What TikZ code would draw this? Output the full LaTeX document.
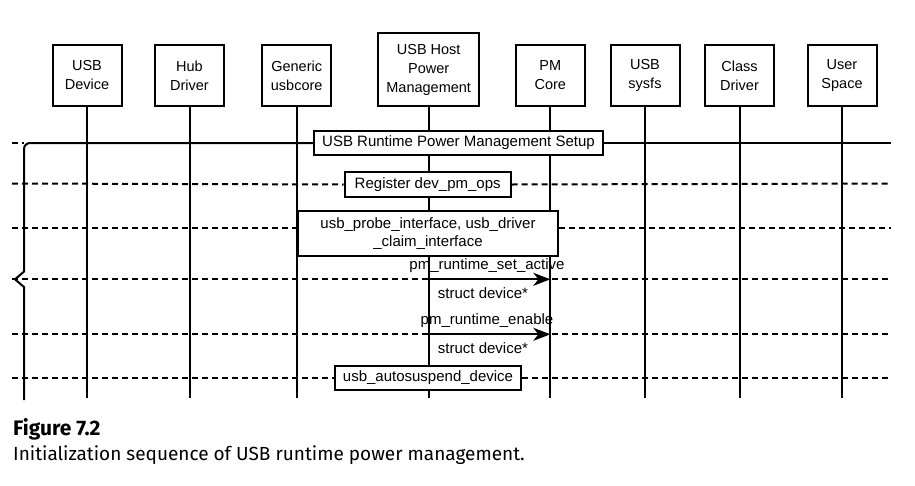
\documentclass[tikz,border=0pt]{standalone}
\usepackage{fontspec}
\setmainfont{Liberation Sans}
\newfontfamily\capfont{Fira Sans}
\usepackage{tikz}
\usetikzlibrary{calc}
\usetikzlibrary{arrows.meta}
\tikzset{
   actor/.style={draw=black, line width=2pt, fill=white, minimum width=69pt,
      minimum height=61pt, inner sep=1pt, align=center,
      font=\fontsize{14.5}{19}\selectfont},
   lifeline/.style={draw=black, line width=2pt},
   msgbox/.style={draw=black, line width=2pt, fill=white, inner xsep=8pt,
      inner ysep=0pt, minimum height=24pt, align=center,
      font=\fontsize{15}{18}\selectfont},
   msgline/.style={draw=black, line width=2pt, dash pattern=on 6pt off 4pt},
   call/.style={draw=black, line width=2pt,
      -{Stealth[length=17pt, width=13pt, inset=5pt]}},
   calltext/.style={font=\fontsize{15}{18}\selectfont, inner sep=0pt},
    }

\begin{document}
\begin{tikzpicture}[x=1pt, y=-1pt]
        \useasboundingbox (0,0) rectangle (915,485);
        % participants
        \node[actor] (dev)  at (87,75.5)  {USB\\Device};
        \node[actor] (hub)  at (189.5,75.5) {Hub\\Driver};
        \node[actor] (core) at (296.7,75.5) {Generic\\usbcore};
        \node[actor, minimum width=100.7pt, minimum height=73pt] (host) at (428.7,69.6) {USB Host\\Power\\Management};
        \node[actor] (pm)   at (550.3,75.5) {PM\\Core};
        \node[actor] (fs)   at (645,75.5) {USB\\sysfs};
        \node[actor] (cls)  at (739.5,75.5) {Class\\Driver};
        \node[actor] (user) at (842,75.5) {User\\Space};
        \coordinate (bottom) at (0,398);
        \foreach \p in {dev,hub,core,host,pm,fs,cls,user}
            \draw[lifeline] (\p.south) -- (\p |- bottom);
        % messages
        \node[msgbox] (setup) at (458.5,143) {USB Runtime Power Management Setup};
        \node[msgbox, minimum height=25.6pt, inner xsep=10pt] (reg) at (427.7,184.5) {Register dev\_pm\_ops};
        \node[msgbox, minimum width=260.6pt, minimum height=44.7pt] (probe) at (428,233.3) {usb\_probe\_interface, usb\_driver\\\_claim\_interface};
        \node[msgbox] (susp) at (428,377.5) {usb\_autosuspend\_device};
        \coordinate (L0) at (12,143);
        \coordinate (B0) at (24,143);
        \coordinate (R0) at (891,143);
        \coordinate (L1) at (12,183.5);
        \coordinate (R1) at (891,183.5);
        \coordinate (L2) at (12,227.7);
        \coordinate (R2) at (891,227.7);
        \coordinate (L3) at (12,279.3);
        \coordinate (R3) at (891,279.3);
        \coordinate (L4) at (12,334.3);
        \coordinate (R4) at (891,334.3);
        \coordinate (L5) at (12,377.7);
        \coordinate (R5) at (891,377.7);
        \draw[msgline] (L0) -- (B0);
        \draw[lifeline] (24,400) -- (24,287) -- (15,279.3) -- (24,271.6) [rounded corners=6pt] -- (B0) -- (setup.west);
        \draw[lifeline] (setup.east) -- (R0);
        \draw[msgline] (L1) -- (reg.west);
        \draw[msgline] (reg.east) -- (R1);
        \draw[msgline] (L2) -- (probe.west |- L2);
        \draw[msgline] (probe.east |- R2) -- (R2);
        \draw[msgline] (L3) -- (R3);
        \draw[msgline] (L4) -- (R4);
        \draw[msgline] (L5) -- (susp.west |- L5);
        \draw[msgline] (susp.east |- R5) -- (R5);
        % calls
        \draw[call] (host |- L3) -- (pm |- L3);
        \node[calltext] (act) at (487,265.5) {pm\_runtime\_set\_active};
        \node[calltext] (arg1) at (483,293) {struct device*};
        \draw[call] (host |- L4) -- (pm |- L4);
        \node[calltext] (ena) at (487,320.5) {pm\_runtime\_enable};
        \node[calltext] (arg2) at (483,348) {struct device*};
        % caption
        \node[anchor=base west, inner sep=0pt, font=\capfont\bfseries\fontsize{21}{24}\selectfont] (fig) at (13,435.7) {Figure 7.2};
        \node[anchor=base west, inner sep=0pt, font=\capfont\fontsize{19}{24}\selectfont] (cap) at (13,460) {Initialization sequence of USB runtime power management.};
\end{tikzpicture}
\end{document}
